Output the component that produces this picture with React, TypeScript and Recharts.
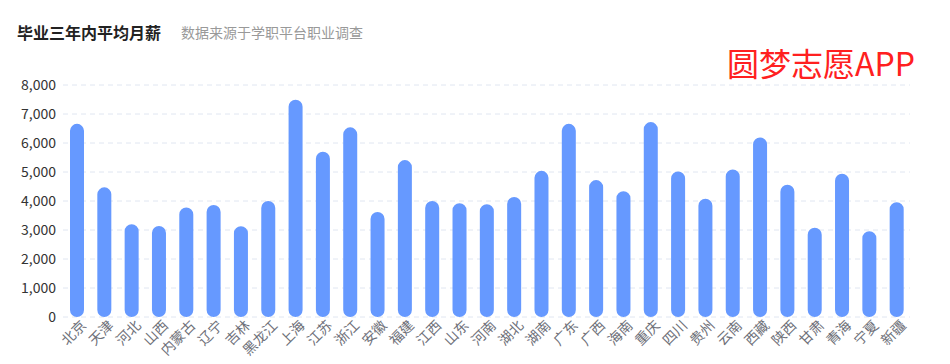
import { BarChart, Bar, XAxis, YAxis, CartesianGrid } from 'recharts'

const provinces = [
  '北京', '天津', '河北', '山西', '内蒙古', '辽宁', '吉林', '黑龙江', '上海', '江苏',
  '浙江', '安徽', '福建', '江西', '山东', '河南', '湖北', '湖南', '广东', '广西',
  '海南', '重庆', '四川', '贵州', '云南', '西藏', '陕西', '甘肃', '青海', '宁夏', '新疆',
]

const salaries = [
  6660, 4470, 3200, 3140, 3780, 3860, 3130, 4000, 7490, 5700,
  6540, 3620, 5410, 4000, 3920, 3890, 4140, 5040, 6660, 4720,
  4340, 6720, 5020, 4080, 5090, 6190, 4560, 3080, 4940, 2960, 3960,
]

const yTicks = [0, 1000, 2000, 3000, 4000, 5000, 6000, 7000, 8000]

const data = provinces.map((name, i) => ({ name, value: salaries[i] }))

const FONT = '"Noto Sans CJK SC", "Noto Sans", sans-serif'

function XTick(props: any) {
  const { x, y, payload } = props
  return (
    <g transform={`translate(${x + 7},${y - 2})`}>
      <text
        transform="rotate(-45)"
        textAnchor="end"
        dy="0.35em"
        fontSize={14}
        fill="#6e7079"
        fontFamily={FONT}
      >
        {payload.value}
      </text>
    </g>
  )
}

export default function App() {
  return (
    <div style={{ position: 'absolute', left: 0, top: 0, width: 950, height: 364, fontFamily: FONT }}>
      <div style={{ position: 'absolute', left: 17, top: 20, fontSize: 16, fontWeight: 700, color: '#222', lineHeight: '24px' }}>
        毕业三年内平均月薪
      </div>
      <div style={{ position: 'absolute', left: 181, top: 21, fontSize: 14, color: '#999', lineHeight: '22px' }}>
        数据来源于学职平台职业调查
      </div>
      <div style={{ position: 'absolute', left: 727, top: 40, fontSize: 32, color: '#ff2020', lineHeight: '44px' }}>
        圆梦志愿APP
      </div>
      <BarChart
        width={950}
        height={364}
        data={data}
        margin={{ top: 85, right: 40, left: 0, bottom: 0 }}
        barCategoryGap={0}
      >
        <CartesianGrid
          vertical={false}
          strokeDasharray="5 4"
          stroke="#e0e6f1"
        />
        <XAxis
          dataKey="name"
          interval={0}
          axisLine={false}
          tickLine={false}
          tick={<XTick />}
          height={47}
        />
        <YAxis
          width={63}
          domain={[0, 8000]}
          ticks={yTicks}
          axisLine={false}
          tickLine={false}
          tickMargin={1}
          tickFormatter={(v: number) => v.toLocaleString('en-US')}
          tick={{ fontSize: 14, fill: '#333', fontFamily: FONT }}
        />
        <Bar
          dataKey="value"
          fill="#6699ff"
          barSize={14}
          radius={[7, 7, 7, 7]}
          isAnimationActive={false}
        />
      </BarChart>
    </div>
  )
}
